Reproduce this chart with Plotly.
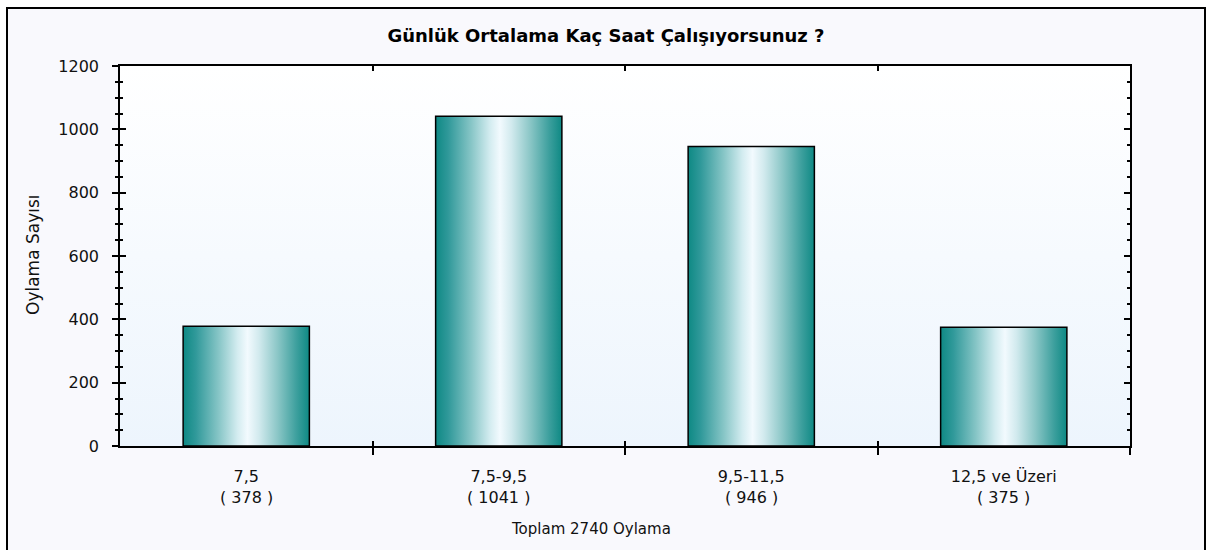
import plotly.graph_objects as go

# chart data
categories = ["7,5", "7,5-9,5", "9,5-11,5", "12,5 ve Üzeri"]
votes = [378, 1041, 946, 375]
total_votes = sum(votes)

title_text = "Günlük Ortalama Kaç Saat Çalışıyorsunuz ?"
y_title = "Oylama Sayısı"
x_title = f"Toplam {total_votes} Oylama"

y_max = 1200
bar_width = 0.5

# pixel layout (body margin is removed below, so page pixels == figure pixels)
W, H = 1208, 550
left, right, top, bottom = 120, 1130, 66, 446
pw, ph = right - left, bottom - top


def px_x(p):
    return (p - left) / pw


def px_y(p):
    return (bottom - p) / ph


bar_scale = [
    [0.0, "#0e8984"], [0.1, "#30999a"], [0.28, "#86c5c6"], [0.43, "#d3ecf0"],
    [0.51, "#f2fafe"], [0.6, "#d2eaee"], [0.75, "#8ac6c6"], [0.9, "#3c9f9d"],
    [1.0, "#0e8984"],
]

FAMILY = "DejaVu Sans, Verdana, sans-serif"
font = dict(family=FAMILY, size=16, color="#111")

fig = go.Figure()

# plot area background (soft vertical gradient)
x_lo, x_hi = -0.5, len(categories) - 0.5
fig.add_trace(go.Scatter(
    x=[x_lo, x_lo, x_hi, x_hi, x_lo], y=[0, y_max, y_max, 0, 0],
    mode="none", fill="toself",
    fillgradient=dict(type="vertical", colorscale=[[0, "#edf5fd"], [1, "#ffffff"]]),
    hoverinfo="skip", showlegend=False, xaxis="x", yaxis="y",
))

# bars with a horizontal teal-white-teal gradient
for i, (cat, v) in enumerate(zip(categories, votes)):
    x0, x1 = i - bar_width / 2, i + bar_width / 2
    fig.add_trace(go.Scatter(
        x=[x0, x0, x1, x1, x0], y=[0, v, v, 0, 0],
        mode="lines", fill="toself",
        line=dict(color="#000", width=1.5),
        fillgradient=dict(type="horizontal", colorscale=bar_scale),
        name=cat, hovertemplate=f"{cat}: {v}<extra></extra>",
        showlegend=False, xaxis="x2", yaxis="y2",
    ))

boundaries = [i + 0.5 for i in range(len(categories))]

fig.update_layout(
    width=W, height=H,
    margin=dict(l=left, r=W - right, t=top, b=H - bottom),
    paper_bgcolor="#ffffff", plot_bgcolor="rgba(0,0,0,0)",
    font=font,
    title=dict(text=f"<b>{title_text}</b>", x=606 / W, xref="container",
               xanchor="center", y=1 - 36 / H, yref="container", yanchor="middle",
               font=dict(family=FAMILY, size=18, color="#000")),
    xaxis=dict(
        range=[x_lo, x_hi], showgrid=False, zeroline=False,
        showline=True, linecolor="#000", linewidth=1.5,
        tickmode="array", tickvals=list(range(len(categories))), ticktext=categories,
        ticks="outside", ticklen=0, tickwidth=0, ticklabelstandoff=15,
        minor=dict(tickmode="array", tickvals=boundaries, ticks="outside",
                   ticklen=7, tickwidth=1.5, tickcolor="#000"),
        tickfont=font,
    ),
    yaxis=dict(
        range=[0, y_max], showgrid=False, zeroline=False,
        showline=True, linecolor="#000", linewidth=1.5,
        tickmode="linear", tick0=0, dtick=200,
        ticks="outside", ticklen=6, tickwidth=1.5, tickcolor="#000",
        minor=dict(dtick=50, ticks="outside", ticklen=3, tickwidth=1.5, tickcolor="#000"),
        ticklabelstandoff=10, tickfont=font,
    ),
    xaxis2=dict(
        range=[x_lo, x_hi], overlaying="x", anchor="y2", showgrid=False, zeroline=False,
        showline=True, linecolor="#000", linewidth=1.5, mirror="ticks",
        tickmode="array", tickvals=boundaries, ticks="inside", ticklen=5,
        tickwidth=1.5, tickcolor="#000", showticklabels=False,
    ),
    yaxis2=dict(
        range=[0, y_max], overlaying="y", anchor="x2", showgrid=False, zeroline=False,
        showline=True, linecolor="#000", linewidth=1.5, mirror="ticks",
        tickmode="linear", tick0=0, dtick=200, ticks="inside", ticklen=6,
        tickwidth=1.5, tickcolor="#000", showticklabels=False,
        minor=dict(dtick=50, ticks="inside", ticklen=3, tickwidth=1.5, tickcolor="#000"),
    ),
)

# outer frame of the chart image
fig.add_shape(type="rect", xref="paper", yref="paper", layer="below",
              x0=px_x(7), x1=px_x(1205), y0=px_y(570), y1=px_y(8),
              line=dict(color="#000", width=2), fillcolor="#f9f9fd")

# vote counts under each category label
for i, v in enumerate(votes):
    fig.add_annotation(text=f"( {v} )", x=i, xref="x", y=px_y(497), yref="paper",
                       xanchor="center", yanchor="middle", showarrow=False, font=font)

fig.add_annotation(text=x_title, xref="paper", yref="paper",
                   x=px_x(591), y=px_y(529),
                   xanchor="center", yanchor="middle", showarrow=False,
                   font=dict(font, size=15))

fig.add_annotation(text=y_title, xref="paper", yref="paper",
                   x=px_x(33), y=px_y(255), textangle=-90,
                   xanchor="center", yanchor="middle", showarrow=False,
                   font=dict(font, size=17))

fig.write_html("out.html", config={"displayModeBar": False},
               post_script="document.body.style.margin = '0';")
